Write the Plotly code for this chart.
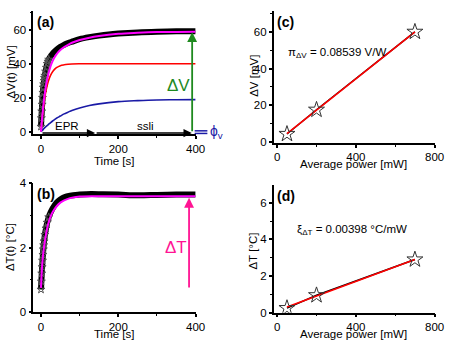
import plotly.graph_objects as go

# ---------------- data ----------------
# panel (a): voltage transient
t_dat_a = [0, 1, 2, 3, 4, 5, 6, 7, 8, 9, 10, 12, 14, 16, 18, 20, 23, 26, 30, 35, 40, 50, 60, 70, 80,
           100, 125, 150, 175, 200, 250, 300, 350, 400]
v_dat_a = [3, 8, 12, 16, 20, 23, 26, 28, 30, 31.7, 33, 35.5, 37.7, 40, 41.3, 42.5, 43.8, 44.8, 46, 47.2,
           48.3, 50, 51.2, 52.2, 53, 54.5, 55.7, 56.6, 57.3, 57.8, 58.5, 58.9, 59.1, 59.2]
t_fit_a = [0, 5, 10, 15, 20, 25, 30, 35, 40, 50, 60, 70, 80, 100, 125, 150, 200, 250, 300, 350, 400]
fast_a = [0, 12.0, 20.4, 26.3, 30.4, 33.3, 35.3, 36.7, 37.7, 38.9, 39.4, 39.7, 39.9, 40, 40, 40, 40, 40,
          40, 40, 40]
slow_a = [0, 1.2, 2.4, 3.4, 4.4, 5.4, 6.3, 7.1, 7.9, 9.2, 10.5, 11.5, 12.5, 14.0, 15.4, 16.4, 17.7,
          18.3, 18.7, 18.8, 18.9]
total_a = [0, 13.2, 22.8, 29.7, 34.8, 38.7, 41.6, 43.8, 45.6, 48.1, 49.9, 51.2, 52.4, 54.0, 55.4, 56.4,
           57.7, 58.3, 58.7, 58.8, 58.9]

# panel (b): temperature transient
t_dat_b = [0, 1, 2, 3, 4, 5, 6, 7, 8, 10, 13, 16, 20, 25, 30, 40, 50, 60, 75, 100, 130, 160, 200, 250,
           300, 350, 400]
v_dat_b = [0.7, 0.95, 1.2, 1.4, 1.6, 1.78, 1.95, 2.08, 2.2, 2.4, 2.6, 2.78, 2.95, 3.1, 3.22, 3.4, 3.5,
           3.57, 3.62, 3.65, 3.67, 3.66, 3.65, 3.63, 3.64, 3.65, 3.65]
t_fit_b = [0, 3, 6, 10, 15, 20, 25, 30, 40, 50, 60, 75, 100, 150, 200, 300, 400]
fit_b = [0.75, 1.45, 1.85, 2.2, 2.55, 2.8, 2.97, 3.1, 3.28, 3.4, 3.47, 3.54, 3.59, 3.6, 3.6, 3.6, 3.6]

# panels (c), (d): power dependence
power = [50, 200, 700]
dv_c = [4.3, 17.5, 60.0]
dv_fit_c = [4.5, 17.3, 60.0]
dt_d = [0.25, 0.95, 2.9]
dt_fit_d = [0.31, 0.91, 2.9]

x_ticks_time = [0, 200, 400]
x_ticks_power = [0, 400, 800]

# ---------------- style ----------------
FONT = "Liberation Sans, Arial, sans-serif"
W, H = 458, 347
MAGENTA = "#ff00ff"
RED = "#ff0000"
BLUE = "#1a1aa6"
GREEN = "#1f8a1f"
PINK = "#ff1493"
TICK_FS = 11.5
TITLE_FS = 11.5


def px_x(p):
    return p / W


def px_y(p):
    return 1 - p / H


fig = go.Figure()

# (a)
fig.add_trace(go.Scatter(x=t_dat_a, y=v_dat_a, mode="lines", line=dict(color="black", width=6, shape="spline"),
                         xaxis="x", yaxis="y"))
fig.add_trace(go.Scatter(x=t_dat_a[:16], y=v_dat_a[:16], mode="markers",
                         marker=dict(symbol="star-open", size=6, color="#555", line=dict(width=1)),
                         xaxis="x", yaxis="y"))
fig.add_trace(go.Scatter(x=t_fit_a, y=fast_a, mode="lines", line=dict(color=RED, width=1.6, shape="spline"),
                         xaxis="x", yaxis="y"))
fig.add_trace(go.Scatter(x=t_fit_a, y=slow_a, mode="lines", line=dict(color=BLUE, width=1.6, shape="spline"),
                         xaxis="x", yaxis="y"))
fig.add_trace(go.Scatter(x=t_fit_a, y=total_a, mode="lines", line=dict(color=MAGENTA, width=2, shape="spline"),
                         xaxis="x", yaxis="y"))

# (b)
fig.add_trace(go.Scatter(x=t_dat_b, y=v_dat_b, mode="lines", line=dict(color="black", width=6, shape="spline"),
                         xaxis="x2", yaxis="y2"))
fig.add_trace(go.Scatter(x=t_dat_b[:13], y=v_dat_b[:13], mode="markers",
                         marker=dict(symbol="star-open", size=6, color="#555", line=dict(width=1)),
                         xaxis="x2", yaxis="y2"))
fig.add_trace(go.Scatter(x=t_fit_b, y=fit_b, mode="lines", line=dict(color=MAGENTA, width=2, shape="spline"),
                         xaxis="x2", yaxis="y2"))

# (c)
fig.add_trace(go.Scatter(x=power, y=dv_c, mode="lines", line=dict(color="black", width=1.5),
                         xaxis="x3", yaxis="y3"))
fig.add_trace(go.Scatter(x=power, y=dv_fit_c, mode="lines", line=dict(color=RED, width=1.6),
                         xaxis="x3", yaxis="y3"))
fig.add_trace(go.Scatter(x=power, y=dv_c, mode="markers",
                         marker=dict(symbol="star-open", size=12, color="#333", line=dict(width=1)),
                         xaxis="x3", yaxis="y3"))

# (d)
fig.add_trace(go.Scatter(x=power, y=dt_d, mode="lines", line=dict(color="black", width=1.5),
                         xaxis="x4", yaxis="y4"))
fig.add_trace(go.Scatter(x=power, y=dt_fit_d, mode="lines", line=dict(color=RED, width=1.6),
                         xaxis="x4", yaxis="y4"))
fig.add_trace(go.Scatter(x=power, y=dt_d, mode="markers",
                         marker=dict(symbol="star-open", size=12, color="#333", line=dict(width=1)),
                         xaxis="x4", yaxis="y4"))


def axis(domain, rng, dtick, minor_dtick, anchor, tickvals=None):
    d = dict(domain=domain, range=rng, showline=True, linecolor="black", linewidth=1.5,
             ticks="outside", ticklen=3, tickwidth=1.5, tickcolor="black",
             showgrid=False, zeroline=False, anchor=anchor,
             tickfont=dict(family=FONT, size=TICK_FS, color="black"),
             minor=dict(ticks="outside", ticklen=2, tickwidth=1.2, dtick=minor_dtick, tickcolor="black",
                        showgrid=False),
             fixedrange=True)
    if tickvals is not None:
        d["tickvals"] = tickvals
        d["tick0"] = 0
    else:
        d["dtick"] = dtick
        d["tick0"] = 0
    return d


xa_dom = [px_x(34), px_x(200)]
xc_dom = [px_x(279.7), px_x(444.3)]
ya_dom = [px_y(133), px_y(5)]
yb_dom = [px_y(317), px_y(183.7)]
yc_dom = [px_y(141.7), px_y(5.3)]
yd_dom = [px_y(317.7), px_y(185.3)]

layout_axes = dict(
    xaxis=axis(xa_dom, [-20, 400], 200, 100, "y", x_ticks_time),
    yaxis=axis(ya_dom, [-1.6, 71.2], 20, 10, "x"),
    xaxis2=axis(xa_dom, [-20, 400], 200, 100, "y2", x_ticks_time),
    yaxis2=axis(yb_dom, [0, 4], 2, 1, "x2"),
    xaxis3=axis(xc_dom, [-18, 800], 400, 200, "y3", x_ticks_power),
    yaxis3=axis(yc_dom, [-0.5, 71.3], 20, 10, "x3"),
    xaxis4=axis(xc_dom, [-18, 800], 400, 200, "y4", x_ticks_power),
    yaxis4=axis(yd_dom, [0, 6.97], 2, 1, "x4"),
)

ann = []


def label(text, x, y, size=TITLE_FS, color="black", angle=0, xanchor="center", bold=False):
    if bold:
        text = "<b>" + text + "</b>"
    ann.append(dict(text=text, x=px_x(x), y=px_y(y), xref="paper", yref="paper", showarrow=False,
                    xanchor=xanchor, yanchor="middle", textangle=angle,
                    font=dict(family=FONT, size=size, color=color)))


# panel tags
label("(a)", 36, 17, size=14, xanchor="left", bold=True)
label("(b)", 36, 195, size=14, xanchor="left", bold=True)
label("(c)", 281, 17, size=14, xanchor="left", bold=True)
label("(d)", 281, 197, size=14, xanchor="left", bold=True)

# axis titles
label("ΔV(t) [mV]", 11, 68, angle=-90)
label("ΔT(t) [°C]", 11, 250, angle=-90)
label("ΔV [mV]", 259, 72, angle=-90)
label("ΔT [°C]", 259, 254, angle=-90)
label("Time [s]", 117, 161)
label("Time [s]", 117, 340)
label("Average power [mW]", 361, 163.5)
label("Average power [mW]", 361, 340)

# in-plot text
label("π<sub>ΔV</sub> = 0.08539 V/W", 292, 49, size=11.5, xanchor="left")
label("ξ<sub>ΔT</sub> = 0.00398 °C/mW", 302, 232, size=11.5, xanchor="left")

ann.append(dict(text="ΔV", x=355, y=27, xref="x", yref="y", showarrow=False,
                font=dict(family=FONT, size=17, color=GREEN)))
ann.append(dict(text="ΔT", x=350, y=2.0, xref="x2", yref="y2", showarrow=False,
                font=dict(family=FONT, size=17, color=PINK)))
ann.append(dict(text="EPR", x=67, y=3.3, xref="x", yref="y", showarrow=False,
                font=dict(family=FONT, size=11.5, color="black")))
ann.append(dict(text="ssli", x=271, y=3.3, xref="x", yref="y", showarrow=False,
                font=dict(family=FONT, size=11.5, color="black")))
ann.append(dict(text="ϕ<sub>v</sub>", x=px_x(213), y=px_y(130), xref="paper", yref="paper",
                showarrow=False, xanchor="left", yanchor="middle",
                font=dict(family=FONT, size=14, color=BLUE)))

# arrows
def arrow(x0, y0, x1, y1, xr, yr, color, width=1.5):
    ann.append(dict(x=x1, y=y1, ax=x0, ay=y0, xref=xr, yref=yr, axref=xr, ayref=yr, text="",
                    showarrow=True, arrowhead=2, arrowsize=1.1, arrowwidth=width, arrowcolor=color,
                    standoff=0, startstandoff=0))


arrow(391, -0.6, 391, 58.6, "x", "y", GREEN, 1.8)
arrow(0, -0.8, 140, -0.8, "x", "y", "black", 1.5)
arrow(140, -0.8, 390, -0.8, "x", "y", "black", 1.5)
arrow(383, 0.72, 383, 3.55, "x2", "y2", PINK, 1.8)

shapes = [
    dict(type="line", xref="paper", yref="paper", x0=px_x(199), x1=px_x(212), y0=px_y(129.3), y1=px_y(129.3),
         line=dict(color=BLUE, width=1.5)),
    dict(type="line", xref="paper", yref="paper", x0=px_x(199), x1=px_x(212), y0=px_y(132), y1=px_y(132),
         line=dict(color=BLUE, width=1.5)),
]

fig.update_layout(
    width=W, height=H, autosize=False,
    margin=dict(l=0, r=0, t=0, b=0),
    paper_bgcolor="white", plot_bgcolor="white",
    showlegend=False,
    annotations=ann, shapes=shapes,
    **layout_axes,
)

fig.write_html("out.html", config={"displayModeBar": False},
               post_script="document.body.style.margin='0';document.body.style.overflow='hidden';")
